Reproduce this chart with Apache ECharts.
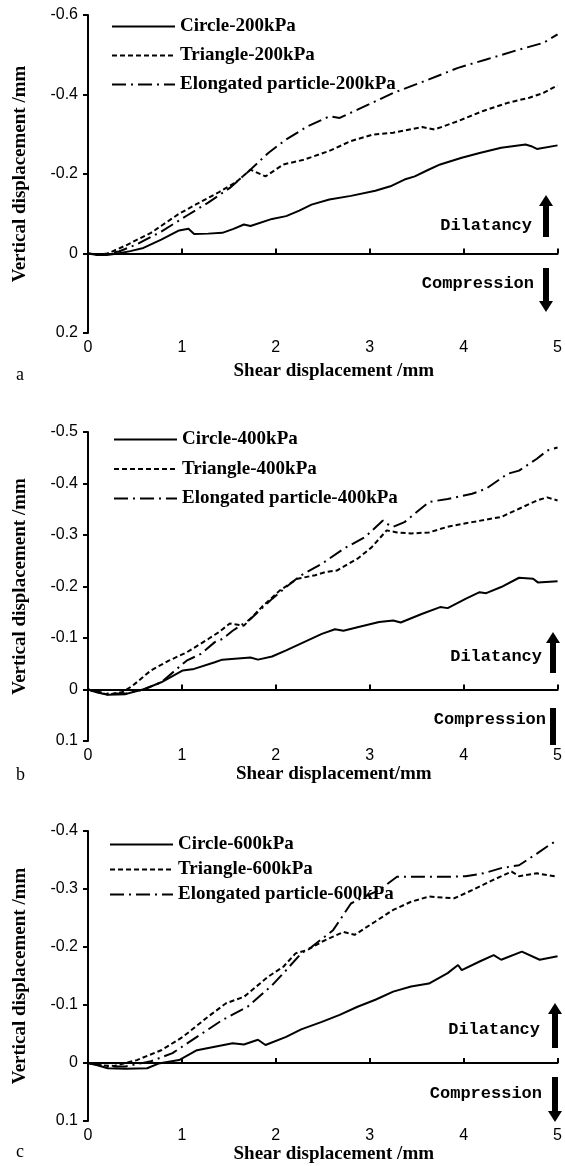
<!DOCTYPE html>
<html>
<head>
<meta charset="utf-8">
<script src="https://cdn.jsdelivr.net/npm/echarts@6/dist/echarts.min.js"></script>
<style>html,body{margin:0;padding:0;background:#fff}#c{width:565px;height:1166px}</style>
</head>
<body>
<div id="c"></div>
<script>
// ---- data ----
const xTicks = [0, 1, 2, 3, 4, 5];
const circleA = [[0,0],[0.1,0.004],[0.2,0.004],[0.32,0],[0.45,-0.006],[0.59,-0.014],[0.78,-0.035],[0.97,-0.058],[1.07,-0.062],[1.13,-0.049],[1.28,-0.05],[1.43,-0.052],[1.55,-0.062],[1.66,-0.073],[1.73,-0.069],[1.96,-0.087],[2.11,-0.094],[2.25,-0.108],[2.38,-0.123],[2.57,-0.136],[2.8,-0.145],[3.06,-0.158],[3.22,-0.169],[3.37,-0.186],[3.48,-0.194],[3.62,-0.21],[3.75,-0.224],[3.98,-0.241],[4.17,-0.253],[4.4,-0.266],[4.66,-0.274],[4.72,-0.27],[4.78,-0.263],[5.0,-0.272]];
const triangleA = [[0,0],[0.1,0.003],[0.21,0],[0.4,-0.02],[0.67,-0.052],[0.97,-0.1],[1.2,-0.13],[1.4,-0.155],[1.58,-0.18],[1.73,-0.211],[1.89,-0.194],[2.08,-0.224],[2.3,-0.236],[2.57,-0.258],[2.8,-0.283],[3.03,-0.299],[3.25,-0.304],[3.56,-0.318],[3.69,-0.312],[3.94,-0.333],[4.2,-0.358],[4.47,-0.379],[4.7,-0.392],[4.85,-0.404],[5.0,-0.423]];
const elongA = [[0,0],[0.15,0.003],[0.33,-0.005],[0.52,-0.023],[0.78,-0.055],[1.05,-0.095],[1.28,-0.128],[1.51,-0.165],[1.73,-0.211],[1.92,-0.253],[2.11,-0.287],[2.34,-0.32],[2.57,-0.345],[2.68,-0.341],[2.87,-0.362],[2.99,-0.375],[3.25,-0.404],[3.63,-0.438],[3.94,-0.467],[4.24,-0.488],[4.59,-0.513],[4.85,-0.53],[5.0,-0.551]];

const circleB = [[0,0],[0.1,0.006],[0.21,0.01],[0.4,0.009],[0.5,0.004],[0.59,0],[0.78,-0.014],[1.01,-0.037],[1.13,-0.04],[1.35,-0.053],[1.43,-0.058],[1.73,-0.062],[1.81,-0.058],[1.96,-0.064],[2.11,-0.076],[2.3,-0.092],[2.49,-0.108],[2.63,-0.117],[2.72,-0.114],[2.87,-0.121],[3.1,-0.131],[3.25,-0.134],[3.33,-0.13],[3.56,-0.147],[3.75,-0.16],[3.83,-0.158],[4.02,-0.176],[4.17,-0.189],[4.24,-0.187],[4.4,-0.199],[4.59,-0.217],[4.74,-0.215],[4.79,-0.208],[5.0,-0.21]];
const triangleB = [[0,0],[0.1,0.005],[0.21,0.01],[0.37,0.005],[0.48,-0.008],[0.67,-0.037],[0.86,-0.056],[1.05,-0.072],[1.28,-0.098],[1.39,-0.111],[1.51,-0.128],[1.66,-0.124],[1.85,-0.16],[2.04,-0.192],[2.23,-0.215],[2.42,-0.222],[2.53,-0.228],[2.65,-0.231],[2.87,-0.254],[3.02,-0.276],[3.18,-0.309],[3.29,-0.305],[3.44,-0.303],[3.63,-0.305],[3.83,-0.316],[4.09,-0.325],[4.4,-0.335],[4.59,-0.351],[4.78,-0.367],[4.89,-0.373],[5.0,-0.367]];
const elongB = [[0,0],[0.2,0.008],[0.4,0.008],[0.59,0],[0.78,-0.014],[1.05,-0.056],[1.2,-0.069],[1.35,-0.092],[1.43,-0.098],[1.54,-0.114],[1.73,-0.137],[1.96,-0.176],[2.11,-0.199],[2.27,-0.222],[2.49,-0.244],[2.72,-0.273],[2.95,-0.296],[3.14,-0.328],[3.18,-0.322],[3.25,-0.316],[3.37,-0.325],[3.63,-0.364],[3.83,-0.37],[4.09,-0.38],[4.24,-0.39],[4.47,-0.419],[4.59,-0.425],[4.78,-0.448],[4.89,-0.464],[5.0,-0.47]];

const circleC = [[0,0],[0.1,0.004],[0.21,0.009],[0.4,0.01],[0.63,0.009],[0.75,0.001],[0.97,-0.005],[1.16,-0.022],[1.35,-0.028],[1.54,-0.034],[1.66,-0.032],[1.81,-0.04],[1.89,-0.031],[2.11,-0.045],[2.27,-0.058],[2.49,-0.071],[2.68,-0.083],[2.87,-0.097],[3.06,-0.109],[3.25,-0.123],[3.44,-0.132],[3.63,-0.137],[3.83,-0.155],[3.94,-0.169],[3.98,-0.16],[4.17,-0.175],[4.32,-0.186],[4.4,-0.178],[4.62,-0.192],[4.81,-0.178],[5.0,-0.184]];
const triangleC = [[0,0],[0.15,0.004],[0.28,0.005],[0.52,-0.005],[0.78,-0.022],[1.01,-0.045],[1.28,-0.08],[1.47,-0.103],[1.66,-0.114],[1.92,-0.149],[2.08,-0.166],[2.21,-0.189],[2.34,-0.195],[2.49,-0.209],[2.72,-0.226],[2.84,-0.221],[3.06,-0.244],[3.25,-0.264],[3.44,-0.278],[3.63,-0.287],[3.9,-0.284],[4.09,-0.298],[4.32,-0.316],[4.51,-0.33],[4.59,-0.322],[4.78,-0.327],[5.0,-0.321]];
const elongC = [[0,0],[0.2,0.006],[0.4,0.006],[0.67,-0.003],[0.9,-0.017],[1.16,-0.045],[1.43,-0.074],[1.7,-0.097],[1.96,-0.134],[2.11,-0.16],[2.27,-0.189],[2.38,-0.2],[2.61,-0.229],[2.8,-0.275],[2.91,-0.284],[3.1,-0.298],[3.29,-0.321],[3.56,-0.321],[3.79,-0.321],[4.02,-0.322],[4.21,-0.327],[4.4,-0.336],[4.59,-0.341],[4.78,-0.361],[4.94,-0.379],[5.0,-0.382]];

const yRangeA = [-0.6, 0.2, 0.2];
const yRangeB = [-0.5, 0.1, 0.1];
const yRangeC = [-0.4, 0.1, 0.1];
const namesA = ['Circle-200kPa', 'Triangle-200kPa', 'Elongated particle-200kPa'];
const namesB = ['Circle-400kPa', 'Triangle-400kPa', 'Elongated particle-400kPa'];
const namesC = ['Circle-600kPa', 'Triangle-600kPa', 'Elongated particle-600kPa'];
const xTitles = ['Shear displacement /mm', 'Shear displacement/mm', 'Shear displacement /mm'];
const yTitle = 'Vertical displacement /mm';
const panelLetters = ['a', 'b', 'c'];

// ---- layout ----
const SERIF = '"Liberation Serif", "Times New Roman", serif';
const SANS = '"Liberation Sans", Arial, sans-serif';
const MONO = '"Liberation Mono", monospace';
const grids = [
  {left: 88, top: 15, width: 474, height: 318},
  {left: 88, top: 432, width: 474, height: 309},
  {left: 88, top: 831, width: 474, height: 290}
];
const legendPos = [
  {left: 106, top: 12, itemGap: 10},
  {left: 108, top: 425, itemGap: 10.5},
  {left: 104, top: 830, itemGap: 6}
];
const xNameGap = [29, 24, 22];
const styles = [
  {type: 'solid'},
  {type: [5, 3]},
  {type: [14, 5, 2, 5]}
];

const chart = echarts.init(document.getElementById('c'), null, {renderer: 'canvas'});
const panels = [
  {data: [circleA, triangleA, elongA], names: namesA, yr: yRangeA},
  {data: [circleB, triangleB, elongB], names: namesB, yr: yRangeB},
  {data: [circleC, triangleC, elongC], names: namesC, yr: yRangeC}
];

const xAxes = [], yAxes = [], series = [], legends = [];
panels.forEach((p, i) => {
  xAxes.push({
    gridIndex: i, type: 'value', min: xTicks[0], max: xTicks[xTicks.length - 1], interval: 1,
    position: 'bottom',
    axisLine: {onZero: true, lineStyle: {color: '#000', width: 2}},
    axisTick: {inside: true, length: 5, lineStyle: {color: '#000', width: 2}},
    axisLabel: {show: false}, splitLine: {show: false}
  });
  xAxes.push({
    gridIndex: i, type: 'value', min: xTicks[0], max: xTicks[xTicks.length - 1], interval: 1,
    position: 'bottom',
    axisLine: {show: false, onZero: false}, axisTick: {show: false},
    axisLabel: {color: '#000', fontFamily: SANS, fontSize: 16, margin: 7},
    splitLine: {show: false},
    name: xTitles[i], nameLocation: 'middle', nameGap: xNameGap[i],
    nameTextStyle: {color: '#000', fontFamily: SERIF, fontWeight: 'bold', fontSize: 19, padding: [0, 0, 0, 22]}
  });
  yAxes.push({
    gridIndex: i, type: 'value', inverse: true, min: p.yr[0], max: p.yr[1], interval: p.yr[2],
    axisLine: {onZero: false, lineStyle: {color: '#000', width: 2}},
    axisTick: {length: 5, lineStyle: {color: '#000', width: 2}},
    axisLabel: {color: '#000', fontFamily: SANS, fontSize: 16, margin: 10,
      formatter: v => Math.abs(v) < 1e-9 ? '0' : v.toFixed(1)},
    splitLine: {show: false},
    name: yTitle, nameLocation: 'middle', nameGap: 58, nameRotate: 90,
    nameTextStyle: {color: '#000', fontFamily: SERIF, fontWeight: 'bold', fontSize: 19}
  });
  p.data.forEach((d, k) => {
    series.push({
      type: 'line', name: p.names[k], xAxisIndex: i * 2, yAxisIndex: i, data: d,
      symbol: 'none', showSymbol: false, smooth: false, animation: false,
      lineStyle: {color: '#000', width: 2, type: styles[k].type},
      itemStyle: {color: '#000'}
    });
  });
  legends.push({
    data: p.names, orient: 'vertical', left: legendPos[i].left, top: legendPos[i].top,
    itemGap: legendPos[i].itemGap, itemWidth: 63, itemHeight: 14,
    itemStyle: {color: 'rgba(0,0,0,0)', borderWidth: 0, opacity: 0},
    textStyle: {color: '#000', fontFamily: SERIF, fontWeight: 'bold', fontSize: 19},
    selectedMode: false
  });
});

function arrow(x, yTop, yBot, dir, head) {
  const w = 6, hw = 7, hh = 11;
  const els = [];
  if (dir === 'up') {
    els.push({type: 'rect', shape: {x: x - w / 2, y: yTop + hh - 1, width: w, height: yBot - yTop - hh + 1}, style: {fill: '#000'}});
    els.push({type: 'polygon', shape: {points: [[x, yTop], [x - hw, yTop + hh], [x + hw, yTop + hh]]}, style: {fill: '#000'}});
  } else {
    const body = head ? yBot - yTop - hh + 1 : yBot - yTop;
    els.push({type: 'rect', shape: {x: x - w / 2, y: yTop, width: w, height: body}, style: {fill: '#000'}});
    if (head) els.push({type: 'polygon', shape: {points: [[x, yBot], [x - hw, yBot - hh], [x + hw, yBot - hh]]}, style: {fill: '#000'}});
  }
  return els;
}
function label(text, x, y) {
  return {type: 'text', style: {text: text, x: x, y: y, align: 'right', verticalAlign: 'middle',
    fill: '#000', font: 'bold 17px ' + MONO}};
}
const graphic = [].concat(
  [label('Dilatancy', 532, 226), label('Compression', 534, 284)],
  arrow(546, 195, 237, 'up'), arrow(546, 268, 312, 'down', true),
  [label('Dilatancy', 542, 657), label('Compression', 546, 720)],
  arrow(553, 632, 673, 'up'), arrow(553, 708, 745, 'down', false),
  [label('Dilatancy', 540, 1030), label('Compression', 542, 1094)],
  arrow(555, 1003, 1048, 'up'), arrow(555, 1077, 1122, 'down', true),
  panelLetters.map((t, i) => ({type: 'text', style: {text: t, x: 16, y: [375, 775, 1152][i],
    verticalAlign: 'middle', fill: '#000', font: '18px ' + SERIF}}))
);

chart.setOption({
  animation: false,
  backgroundColor: '#fff',
  grid: grids,
  xAxis: xAxes,
  yAxis: yAxes,
  legend: legends,
  series: series,
  graphic: graphic
});
</script>
</body>
</html>
